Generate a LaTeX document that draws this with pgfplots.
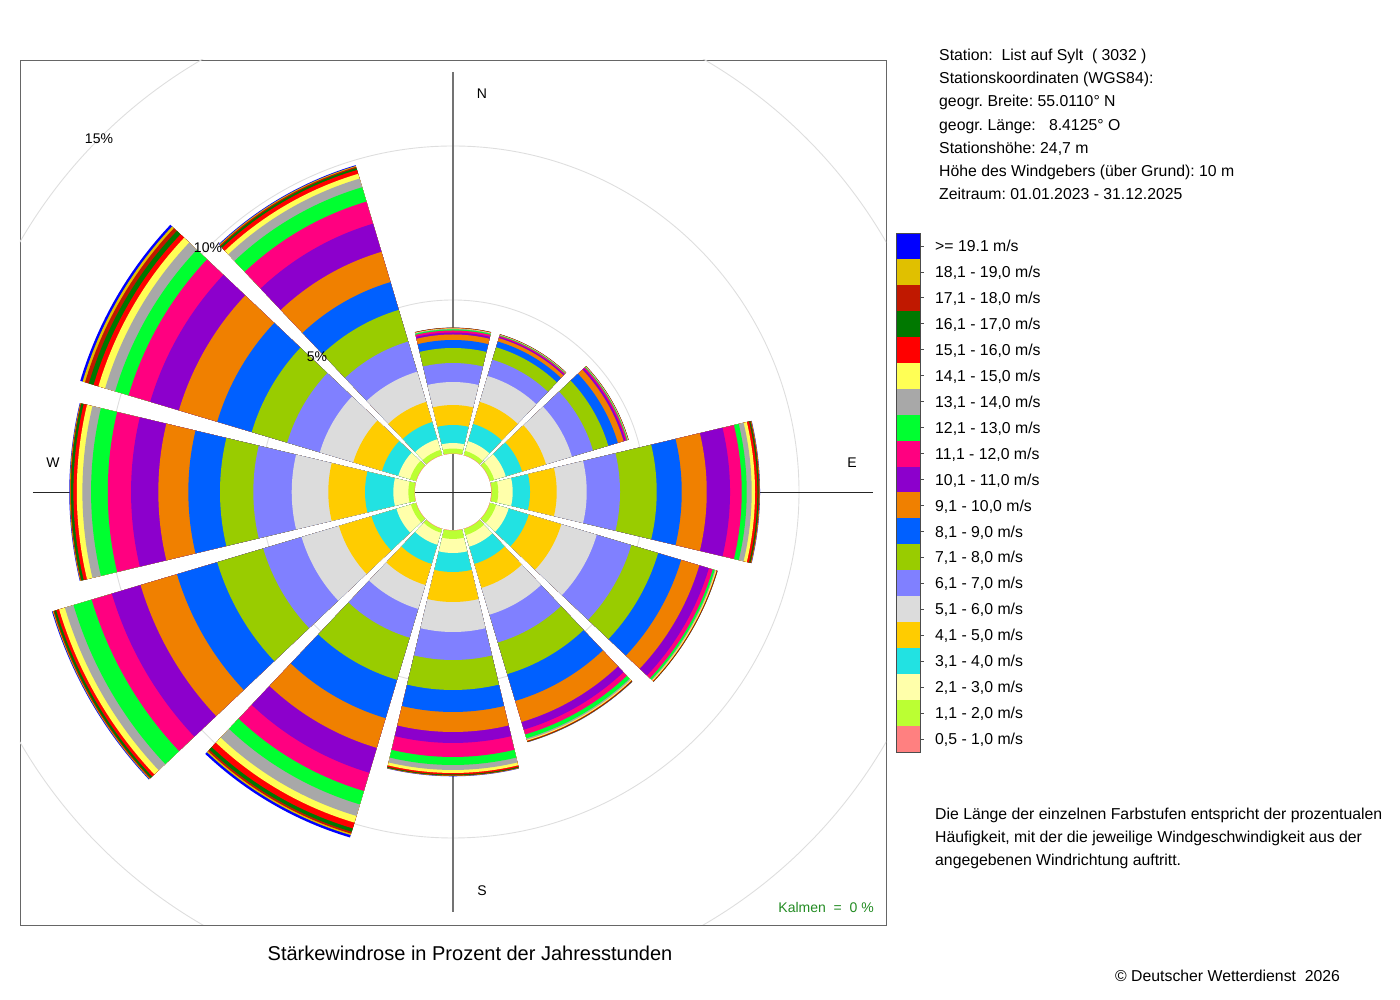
\documentclass[border=0pt]{standalone}
\usepackage{pgfplots}
\pgfplotsset{compat=1.18}
\usepackage{pgfplotstable}
\usepackage{fontspec}
\setmainfont{Liberation Sans}
\frenchspacing

\definecolor{wc1}{RGB}{255,128,128}
\definecolor{wc2}{RGB}{187,255,51}
\definecolor{wc3}{RGB}{255,255,170}
\definecolor{wc4}{RGB}{34,226,226}
\definecolor{wc5}{RGB}{255,204,0}
\definecolor{wc6}{RGB}{220,220,220}
\definecolor{wc7}{RGB}{128,128,255}
\definecolor{wc8}{RGB}{153,204,0}
\definecolor{wc9}{RGB}{0,96,255}
\definecolor{wc10}{RGB}{240,128,0}
\definecolor{wc11}{RGB}{140,0,204}
\definecolor{wc12}{RGB}{255,0,128}
\definecolor{wc13}{RGB}{0,255,48}
\definecolor{wc14}{RGB}{168,168,168}
\definecolor{wc15}{RGB}{255,255,85}
\definecolor{wc16}{RGB}{255,0,0}
\definecolor{wc17}{RGB}{0,120,0}
\definecolor{wc18}{RGB}{192,24,0}
\definecolor{wc19}{RGB}{224,192,0}
\definecolor{wc20}{RGB}{0,0,255}
\definecolor{kalm}{RGB}{34,139,34}

\newcommand\fs{\fontsize{15.8}{19}\selectfont}
\newcommand\fsm{\fontsize{14}{17}\selectfont}

% frequency (percent of hours) per direction and speed class
\pgfplotstableread{
dir b1 b2 b3 b4 b5 b6 b7 b8 b9 b10 b11 b12 b13 b14 b15 b16 b17 b18 b19 b20
0   0.016 0.162 0.179 0.584 0.649 0.747 0.617 0.487 0.260 0.179 0.065 0.065 0.036 0.023 0.013 0.010 0.003 0.003 0.003 0.003
30  0.016 0.146 0.325 0.584 0.747 0.877 0.552 0.422 0.195 0.114 0.042 0.032 0.019 0.013 0.010 0.006 0.003 0.003 0.003 0.003
60  0.016 0.146 0.390 0.552 0.812 0.877 0.714 0.519 0.325 0.195 0.065 0.042 0.023 0.013 0.010 0.006 0.003 0.003 0.003 0.003
90  0.023 0.214 0.468 0.562 0.867 0.974 1.081 1.192 0.812 0.812 0.756 0.380 0.162 0.162 0.107 0.075 0.039 0.026 0.013 0.010
120 0.016 0.211 0.422 0.682 1.104 1.201 1.169 0.909 0.779 0.617 0.325 0.130 0.065 0.032 0.032 0.016 0.010 0.006 0.003 0.003
150 0.016 0.211 0.390 0.584 0.812 0.909 0.942 1.071 0.909 0.714 0.260 0.162 0.130 0.049 0.032 0.023 0.013 0.006 0.006 0.006
180 0.016 0.276 0.455 0.617 0.974 0.974 0.909 0.974 0.714 0.649 0.357 0.455 0.260 0.162 0.097 0.049 0.026 0.013 0.010 0.010
210 0.016 0.130 0.406 0.649 0.714 0.812 0.974 1.429 1.299 1.006 0.844 0.617 0.455 0.390 0.227 0.195 0.114 0.065 0.049 0.081
240 0.016 0.179 0.487 0.844 1.104 1.266 1.299 1.558 1.364 1.234 0.974 0.682 0.617 0.292 0.195 0.097 0.065 0.032 0.023 0.026
270 0.016 0.201 0.487 0.919 1.192 1.188 1.247 1.081 1.029 0.974 0.886 0.756 0.542 0.282 0.182 0.110 0.075 0.026 0.016 0.016
300 0.016 0.211 0.390 0.552 0.974 1.136 1.104 1.201 1.169 1.299 0.974 0.731 0.455 0.341 0.227 0.162 0.162 0.130 0.081 0.081
330 0.016 0.179 0.357 0.584 0.682 1.023 1.023 1.071 0.942 1.026 0.955 0.747 0.487 0.292 0.162 0.130 0.065 0.042 0.029 0.026
}\windtable

% hole radius (pt) and pt per percent
\def\hole{38}
\def\ppp{30.8}

\newcommand\legitem[3]{%
  \fill[#2] (896,{233+#1*25.95}) rectangle (920,{233+(#1+1)*25.95});
  \draw[black!70, line width=0.8pt] (920,{233+(#1+0.5)*25.95}) -- (924,{233+(#1+0.5)*25.95});
  \node[anchor=base west, inner sep=0pt, font=\fs] at (935,{233+(#1+0.5)*25.95+5.6}) {#3};
}

\begin{document}
\begin{tikzpicture}
\path[use as bounding box] (-20pt,-75pt) rectangle (1380pt,925pt);
\begin{axis}[
  x=1pt, y=1pt,
  xmin=-433, xmax=433, ymin=-433, ymax=432,
  xtick=\empty, ytick=\empty,
  axis line style={black!60, line width=0.8pt},
  clip=true,
]
% grid circles 5, 10, 15 %
\foreach \p in {5,10,15}{%
  \pgfmathparse{\hole+\ppp*\p}\let\Rg\pgfmathresult
  \edef\doit{\noexpand\draw[black!13, line width=0.9pt] (axis cs:0,0) circle[radius=\Rg pt];}\doit
}
% cross lines
\draw[black!55, line width=1.4pt] (axis cs:0,420) -- (axis cs:0,-420);
\draw[black!85, line width=0.9pt] (axis cs:-420,0) -- (axis cs:420,0);
% sectors
\foreach \row in {0,...,11}{%
  \pgfplotstablegetelem{\row}{dir}\of\windtable
  \xdef\dir{\pgfplotsretval}%
  \gdef\tot{0}%
  \foreach \k in {1,...,20}{%
    \pgfplotstablegetelem{\row}{b\k}\of\windtable
    \pgfmathparse{\tot+\pgfplotsretval}\xdef\tot{\pgfmathresult}%
  }%
  \pgfmathparse{90-\dir-13.4}\xdef\aA{\pgfmathresult}%
  \pgfmathparse{90-\dir+13.4}\xdef\aB{\pgfmathresult}%
  \foreach \kk in {1,...,20}{%
    \pgfmathtruncatemacro\k{21-\kk}%
    \pgfmathparse{\hole+\ppp*\tot}\let\R\pgfmathresult
    \edef\doit{\noexpand\fill[wc\k] (axis cs:0,0) -- ++(\aA:\R pt) arc[start angle=\aA,end angle=\aB,radius=\R pt] -- cycle;}%
    \doit
    \pgfplotstablegetelem{\row}{b\k}\of\windtable
    \pgfmathparse{\tot-\pgfplotsretval}\xdef\tot{\pgfmathresult}%
  }%
}
% hole
\fill[white] (axis cs:0,0) circle[radius=38pt];
\draw[black!55, line width=1.4pt] (axis cs:0,38) -- (axis cs:0,-38);
\draw[black!85, line width=0.9pt] (axis cs:-38,0) -- (axis cs:38,0);
% labels
\node[font=\fsm] at (axis cs:29,398) {N};
\node[font=\fsm] at (axis cs:29,-399) {S};
\node[font=\fsm] at (axis cs:-400,29) {W};
\node[font=\fsm] at (axis cs:399,29) {E};
\node[font=\fsm] at (axis cs:-136,135) {5\%};
\node[font=\fsm] at (axis cs:-245,244) {10\%};
\node[font=\fsm] at (axis cs:-354,353) {15\%};
\end{axis}

\begin{scope}[x=1pt, y=-1pt, shift={(-20pt,925pt)}]
% station info
\node[anchor=base west, inner sep=0pt, font=\fs] at (939,60.5) {Station:\ \ List auf Sylt\ \ ( 3032 )};
\node[anchor=base west, inner sep=0pt, font=\fs] at (939,83.7) {Stationskoordinaten (WGS84):};
\node[anchor=base west, inner sep=0pt, font=\fs] at (939,106.9) {geogr. Breite: 55.0110° N};
\node[anchor=base west, inner sep=0pt, font=\fs] at (939,130.1) {geogr. Länge:\ \ \ 8.4125° O};
\node[anchor=base west, inner sep=0pt, font=\fs] at (939,153.3) {Stationshöhe: 24,7 m};
\node[anchor=base west, inner sep=0pt, font=\fs] at (939,176.5) {Höhe des Windgebers (über Grund): 10 m};
\node[anchor=base west, inner sep=0pt, font=\fs] at (939,199.7) {Zeitraum: 01.01.2023 - 31.12.2025};
% legend
\legitem{0}{wc20}{>= 19.1 m/s}
\legitem{1}{wc19}{18,1 - 19,0 m/s}
\legitem{2}{wc18}{17,1 - 18,0 m/s}
\legitem{3}{wc17}{16,1 - 17,0 m/s}
\legitem{4}{wc16}{15,1 - 16,0 m/s}
\legitem{5}{wc15}{14,1 - 15,0 m/s}
\legitem{6}{wc14}{13,1 - 14,0 m/s}
\legitem{7}{wc13}{12,1 - 13,0 m/s}
\legitem{8}{wc12}{11,1 - 12,0 m/s}
\legitem{9}{wc11}{10,1 - 11,0 m/s}
\legitem{10}{wc10}{9,1 - 10,0 m/s}
\legitem{11}{wc9}{8,1 - 9,0 m/s}
\legitem{12}{wc8}{7,1 - 8,0 m/s}
\legitem{13}{wc7}{6,1 - 7,0 m/s}
\legitem{14}{wc6}{5,1 - 6,0 m/s}
\legitem{15}{wc5}{4,1 - 5,0 m/s}
\legitem{16}{wc4}{3,1 - 4,0 m/s}
\legitem{17}{wc3}{2,1 - 3,0 m/s}
\legitem{18}{wc2}{1,1 - 2,0 m/s}
\legitem{19}{wc1}{0,5 - 1,0 m/s}
\draw[black!70, line width=0.8pt] (896,233) rectangle (920,752);
% explanation
\node[anchor=base west, inner sep=0pt, font=\fs] at (935,819.5) {Die Länge der einzelnen Farbstufen entspricht der prozentualen};
\node[anchor=base west, inner sep=0pt, font=\fs] at (935,842.5) {Häufigkeit, mit der die jeweilige Windgeschwindigkeit aus der};
\node[anchor=base west, inner sep=0pt, font=\fs] at (935,865.5) {angegebenen Windrichtung auftritt.};
% calms
\node[anchor=base east, inner sep=0pt, font=\fsm, text=kalm] at (874,913) {Kalmen\ \ =\ \ 0 \%};
% title and copyright
\node[anchor=base, inner sep=0pt, font=\fontsize{20}{24}\selectfont] at (470,961) {Stärkewindrose in Prozent der Jahresstunden};
\node[anchor=base west, inner sep=0pt, font=\fs] at (1115,981.5) {© Deutscher Wetterdienst\ \ 2026};
\end{scope}
\end{tikzpicture}
\end{document}
